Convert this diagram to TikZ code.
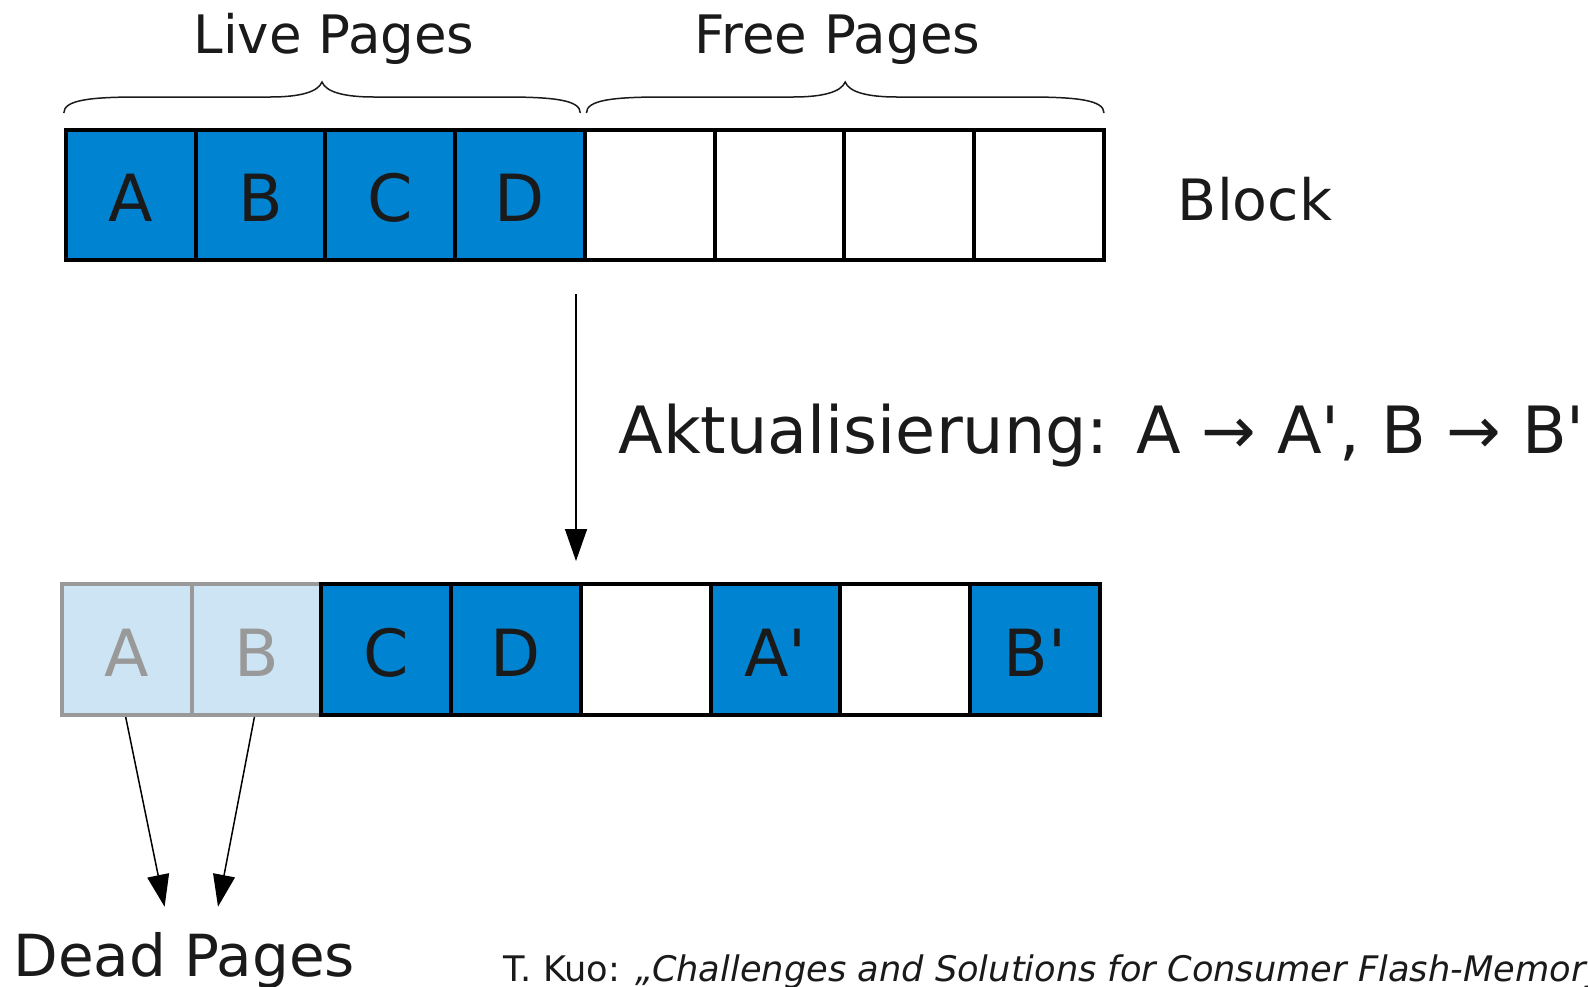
\documentclass[tikz,border=0pt]{standalone}
\usepackage{fontspec}
\setmainfont{DejaVu Sans}[ItalicFont={DejaVu Sans Oblique}]
\usetikzlibrary{arrows.meta}
\definecolor{fblue}{RGB}{0,131,209}
\definecolor{lblue}{RGB}{204,228,244}
\definecolor{dgray}{RGB}{153,153,153}
\definecolor{ink}{RGB}{26,26,26}
\begin{document}
\begin{tikzpicture}[x=0.5pt,y=-0.5pt,
 cell/.style={draw=black, line width=2pt, minimum width=64.88pt, minimum height=65.35pt, inner sep=0pt, text=ink, text height=26.7pt, text depth=0pt, font=\fontsize{32.5pt}{36pt}\selectfont},
 livecell/.style={cell, fill=fblue},
 freecell/.style={cell, fill=white},
 deadcell/.style={cell, draw=dgray, fill=lblue, text=dgray},
 lbl/.style={inner sep=0pt, text=ink, anchor=base},
 bracepath/.style={draw=ink, line width=0.75pt},
 conn/.style={draw=black, line width=0.75pt, -{Triangle[length=16pt,width=11pt]}}
]
\useasboundingbox (0,0) rectangle (1588,986);
\clip (0,0) rectangle (1588,986);
% top block
\node[livecell] (t1) at (130.7,195) {A};
\node[livecell] (t2) at (260.4,195) {B};
\node[livecell] (t3) at (390.2,195) {C};
\node[livecell] (t4) at (520.0,195) {D};
\node[freecell] (t5) at (649.7,195) {};
\node[freecell] (t6) at (779.5,195) {};
\node[freecell] (t7) at (909.3,195) {};
\node[freecell] (t8) at (1039.0,195) {};
% bottom block
\node[deadcell] (b1) at (126.7,649.7) {A};
\node[deadcell] (b2) at (256.4,649.7) {B};
\node[livecell] (b3) at (386.2,649.7) {C};
\node[livecell] (b4) at (516.0,649.7) {D};
\node[freecell] (b5) at (645.7,649.7) {};
\node[livecell] (b6) at (775.5,649.7) {A\textquotesingle};
\node[freecell] (b7) at (905.3,649.7) {};
\node[livecell] (b8) at (1035.0,649.7) {B\textquotesingle};
% labels
\node[lbl, font=\fontsize{26.5pt}{30pt}\selectfont] (live) at (334,53) {Live Pages};
\node[lbl, font=\fontsize{26.5pt}{30pt}\selectfont] (free) at (837.6,53) {Free Pages};
\node[lbl, font=\fontsize{28.5pt}{32pt}\selectfont] (block) at (1255,220) {Block};
\node[lbl, anchor=base west, font=\fontsize{32.6pt}{36pt}\selectfont] (upd) at (618,453) {Aktualisierung: A → A\textquotesingle, B → B\textquotesingle};
\node[lbl, anchor=base west, font=\fontsize{29pt}{32pt}\selectfont] (dead) at (13,976) {Dead Pages};
\node[lbl, anchor=base west, font=\fontsize{17.6pt}{20pt}\selectfont] (cite) at (503,981) {T. Kuo: \textit{„Challenges and Solutions for Consumer Flash-Memory}};
% braces
\draw[bracepath] (63.8,113) .. controls (63.8,100) and (90,97) .. (140,97) -- (270,97) .. controls (300,97) and (318,92) .. (322,82) .. controls (326,92) and (344,97) .. (374,97) -- (504,97) .. controls (554,97) and (580.3,100) .. (580.3,113);
\draw[bracepath] (586.4,113) .. controls (586.4,100) and (613,97) .. (663,97) -- (793,97) .. controls (823,97) and (841,92) .. (845.2,82) .. controls (849,92) and (867,97) .. (897,97) -- (1027,97) .. controls (1077,97) and (1104,100) .. (1104,113);
% connectors
\coordinate (as) at (576,294);
\coordinate (ae) at (576,561);
\draw[conn] (as) -- (ae);
\coordinate (d1) at (164.6,906.7);
\coordinate (d2) at (218,906.7);
\draw[conn] (b1.south) ++(-1,0) -- (d1);
\draw[conn] (b2.south) ++(-2,0) -- (d2);
\end{tikzpicture}
\end{document}
